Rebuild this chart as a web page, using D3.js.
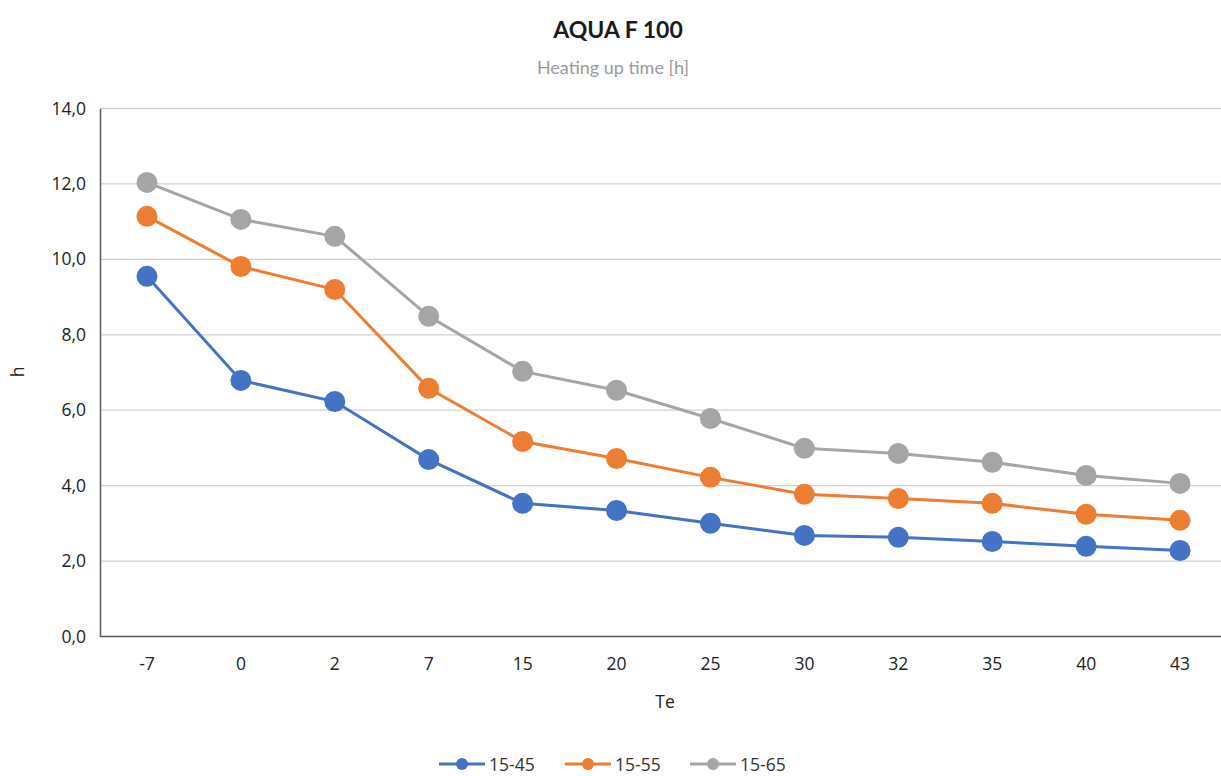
<!DOCTYPE html>
<html>
<head>
<meta charset="utf-8">
<script src="https://cdn.jsdelivr.net/npm/d3@7"></script>
<style>
  body { margin: 0; background: #fff; }
  text { font-family: "Open Sans", "Noto Sans", sans-serif; }
</style>
</head>
<body>
<svg id="chart" width="1221" height="776"></svg>
<script>
// data
const categories = ["-7", "0", "2", "7", "15", "20", "25", "30", "32", "35", "40", "43"];
const s1545 = [9.55, 6.79, 6.23, 4.69, 3.53, 3.34, 3.0, 2.68, 2.63, 2.52, 2.39, 2.28];
const s1555 = [11.14, 9.81, 9.2, 6.58, 5.17, 4.72, 4.22, 3.77, 3.66, 3.53, 3.24, 3.08];
const s1565 = [12.04, 11.06, 10.61, 8.49, 7.03, 6.53, 5.78, 4.99, 4.85, 4.62, 4.27, 4.06];
const seriesNames = ["15-45", "15-55", "15-65"];
const yTicks = [0, 2, 4, 6, 8, 10, 12, 14];

const colors = ["#4472C4", "#ED7D31", "#A5A5A5"];
const allSeries = [s1545, s1555, s1565];

const svg = d3.select("#chart");

let xScale = d3.scaleBand().domain(categories).range([100, 1227]);
let yScale = d3.scaleLinear().domain([0, 14]).range([636.5, 108.5]);

// title
svg.append("text").attr("x", 618).attr("y", 38)
  .attr("text-anchor", "middle").attr("font-size", 23).attr("font-weight", "bold")
  .attr("fill", "#1a1a1a").style("font-family", "Lato, sans-serif")
  .text("AQUA F 100");
svg.append("text").attr("x", 613).attr("y", 74)
  .attr("text-anchor", "middle").attr("font-size", 18)
  .attr("fill", "#9a9a9a").style("font-family", "Lato, sans-serif")
  .text("Heating up time [h]");

// gridlines
svg.append("g").selectAll("line")
  .data(yTicks.filter(d => d > 0))
  .join("line")
  .attr("x1", 100).attr("x2", 1221)
  .attr("y1", d => yScale(d)).attr("y2", d => yScale(d))
  .attr("stroke", "#d0d0d0").attr("stroke-width", 1.3);

// y axis
const yAxisGroup = svg.append("g").attr("transform", "translate(100,0)")
  .call(d3.axisLeft(yScale).tickValues(yTicks).tickSize(0).tickPadding(14)
    .tickFormat(d => d3.format(".1f")(d).replace(".", ",")));
yAxisGroup.select(".domain").attr("stroke", "#595959").attr("stroke-width", 1.5);
yAxisGroup.selectAll("text").attr("font-size", 17.5).attr("fill", "#222")
  .style("font-family", "'Open Sans', sans-serif");

// x axis
const xAxisGroup = svg.append("g").attr("transform", "translate(0,636.5)")
  .call(d3.axisBottom(xScale).tickSize(0).tickPadding(21));
xAxisGroup.select(".domain").attr("d", "M100,0H1221").attr("stroke", "#595959").attr("stroke-width", 1.5);
xAxisGroup.selectAll("text").attr("font-size", 17.5).attr("fill", "#222")
  .style("font-family", "'Open Sans', sans-serif");

// axis titles
svg.append("text").attr("transform", "translate(24,372) rotate(-90)")
  .attr("text-anchor", "middle").attr("font-size", 17.5).attr("fill", "#222").text("h");
svg.append("text").attr("x", 665).attr("y", 708)
  .attr("text-anchor", "middle").attr("font-size", 17.5).attr("fill", "#222").text("Te");

// lines and markers
const xc = c => xScale(c) + xScale.bandwidth() / 2;
let line = d3.line()
  .x((d, i) => xc(categories[i]))
  .y(d => yScale(d));

allSeries.forEach((vals, k) => {
  svg.append("path").datum(vals)
    .attr("d", line)
    .attr("fill", "none").attr("stroke", colors[k]).attr("stroke-width", 3);
  svg.append("g").selectAll("circle")
    .data(vals)
    .join("circle")
    .attr("cx", (d, i) => xc(categories[i]))
    .attr("cy", d => yScale(d))
    .attr("r", 10.5)
    .attr("fill", colors[k]);
});

// legend
const legendX = [439, 565, 690];
seriesNames.forEach((name, k) => {
  const g = svg.append("g").attr("transform", `translate(${legendX[k]},764)`);
  g.append("line").attr("x1", 0).attr("x2", 46).attr("y1", 0).attr("y2", 0)
    .attr("stroke", colors[k]).attr("stroke-width", 3);
  g.append("circle").attr("cx", 23).attr("cy", 0).attr("r", 6).attr("fill", colors[k]);
  g.append("text").attr("x", 50).attr("y", 6.5).attr("font-size", 17.5).attr("fill", "#333").text(name);
});
</script>
</body>
</html>
